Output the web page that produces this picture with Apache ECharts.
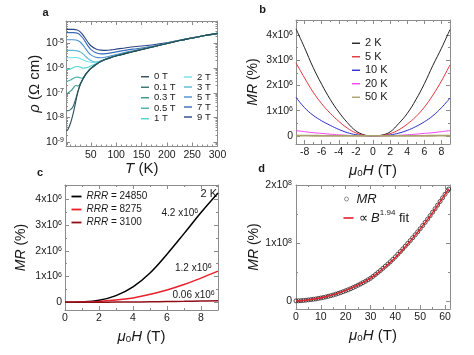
<!DOCTYPE html>
<html><head><meta charset="utf-8">
<script src="https://cdn.jsdelivr.net/npm/echarts@6/dist/echarts.min.js"></script>
<style>html,body{margin:0;padding:0;background:#fff}#c{width:474px;height:355px}</style>
</head><body><div id="c"></div>
<script>
// ---------------- Panel a : rho(T) at several fields (log10 of rho, Ω cm) ----------------
const tempsK = [2,5,10,15,20,25,30,35,40,45,50,60,70,80,90,100,120,140,160,180,200,225,250,275,300];
const fieldNamesA = ['0 T','0.1 T','0.3 T','0.5 T','1 T','2 T','3 T','5 T','7 T','9 T'];
const logRho0T  = [-8.54,-8.47,-8.22,-7.85,-7.38,-6.93,-6.62,-6.42,-6.25,-6.13,-6.02,-5.86,-5.73,-5.64,-5.57,-5.51,-5.40,-5.30,-5.20,-5.10,-5.00,-4.88,-4.78,-4.68,-4.59];
const logRho01T = [-7.72,-7.72,-7.68,-7.55,-7.25,-6.90,-6.61,-6.41,-6.24,-6.12,-6.01,-5.85,-5.72,-5.63,-5.56,-5.50,-5.39,-5.29,-5.19,-5.10,-5.00,-4.88,-4.78,-4.68,-4.59];
const logRho03T = [-7.02,-7.00,-6.93,-6.82,-6.70,-6.72,-6.60,-6.41,-6.24,-6.12,-6.01,-5.85,-5.72,-5.63,-5.56,-5.50,-5.39,-5.29,-5.19,-5.10,-5.00,-4.88,-4.78,-4.68,-4.59];
const logRho05T = [-6.53,-6.52,-6.48,-6.42,-6.37,-6.36,-6.40,-6.38,-6.23,-6.11,-6.00,-5.85,-5.72,-5.63,-5.56,-5.50,-5.39,-5.29,-5.19,-5.10,-5.00,-4.88,-4.78,-4.68,-4.59];
const logRho1T  = [-6.05,-6.05,-6.03,-5.98,-5.94,-5.93,-5.96,-6.00,-5.98,-5.95,-5.91,-5.82,-5.72,-5.63,-5.56,-5.50,-5.39,-5.29,-5.19,-5.10,-5.00,-4.88,-4.78,-4.68,-4.59];
const logRho2T  = [-5.58,-5.58,-5.58,-5.57,-5.57,-5.58,-5.62,-5.67,-5.71,-5.74,-5.76,-5.77,-5.71,-5.63,-5.56,-5.50,-5.39,-5.29,-5.19,-5.10,-5.00,-4.88,-4.78,-4.68,-4.59];
const logRho3T  = [-5.28,-5.28,-5.28,-5.28,-5.29,-5.31,-5.35,-5.43,-5.53,-5.62,-5.69,-5.75,-5.70,-5.63,-5.56,-5.50,-5.39,-5.29,-5.19,-5.10,-5.00,-4.88,-4.78,-4.68,-4.59];
const logRho5T  = [-4.85,-4.85,-4.85,-4.85,-4.86,-4.89,-4.96,-5.08,-5.22,-5.36,-5.46,-5.56,-5.58,-5.55,-5.50,-5.45,-5.35,-5.27,-5.18,-5.09,-5.00,-4.88,-4.78,-4.68,-4.59];
const logRho7T  = [-4.56,-4.56,-4.56,-4.56,-4.57,-4.60,-4.68,-4.80,-4.96,-5.12,-5.24,-5.38,-5.42,-5.41,-5.38,-5.34,-5.27,-5.21,-5.15,-5.08,-4.99,-4.88,-4.78,-4.68,-4.59];
const logRho9T  = [-4.43,-4.43,-4.43,-4.43,-4.44,-4.47,-4.55,-4.67,-4.82,-4.97,-5.09,-5.22,-5.27,-5.28,-5.26,-5.23,-5.17,-5.12,-5.08,-5.03,-4.97,-4.87,-4.77,-4.68,-4.59];
const logRhoTicks = [-9,-8,-7,-6,-5];
const tempTicks = [50,100,150,200,250,300];

// ---------------- Panel b : MR(H) at several temperatures (units of 10^6 %) ----------------
const fieldB = [-9,-8,-7,-6,-5,-4,-3,-2,-1,0,1,2,3,4,5,6,7,8,9];
const tempNamesB = ['2 K','5 K','10 K','20 K','50 K'];
const mr2K  = [4.25,3.50,2.72,2.05,1.45,0.95,0.53,0.20,0.04,0,0.03,0.16,0.49,0.89,1.43,2.07,2.80,3.48,4.22];
const mr5K  = [2.90,2.30,1.74,1.28,0.90,0.58,0.31,0.12,0.02,0,0.02,0.09,0.24,0.47,0.76,1.14,1.62,2.18,2.82];
const mr10K = [1.53,1.12,0.82,0.60,0.42,0.26,0.13,0.05,0.01,0,0.01,0.04,0.11,0.22,0.37,0.56,0.80,1.12,1.50];
const mr20K = [0.21,0.17,0.13,0.10,0.07,0.045,0.025,0.01,0.003,0,0.003,0.01,0.025,0.045,0.07,0.10,0.13,0.17,0.21];
const mr50K = [0.012,0.010,0.008,0.006,0.004,0.003,0.002,0.001,0,0,0,0.001,0.002,0.003,0.004,0.006,0.008,0.010,0.012];
const fieldTicksB = [-8,-6,-4,-2,0,2,4,6,8];
const mrTicks6 = [0,1,2,3,4];

// ---------------- Panel c : MR(H) at 2 K for three samples (units of 10^6 %) ----------------
const fieldC = [0,1,2,3,4,5,6,7,8,9];
const sampleNamesC = ['RRR = 24850','RRR = 8275','RRR = 3100'];
const mrRRR24850 = [0,0.015,0.08,0.26,0.60,1.14,1.87,2.67,3.49,4.25];
const mrRRR8275  = [0,0.01,0.035,0.09,0.165,0.31,0.48,0.69,0.94,1.21];
const mrRRR3100  = [0,0.001,0.003,0.007,0.012,0.019,0.028,0.038,0.049,0.062];
const fieldTicksC = [0,2,4,6,8];

// ---------------- Panel d : high-field MR (units of 10^8 %) ----------------
const fieldD = [0,1,2,3,4,5,6,7,8,9,10,11,12,13,14,15,16,17,18,19,20,21,22,23,24,25,26,27,28,29,30,31,32,33,34,35,36,37,38,39,40,41,42,43,44,45,46,47,48,49,50,51,52,53,54,55,56,57,58,59,60,61,61.5];
const mrD = [0,0.002,0.004,0.008,0.012,0.017,0.022,0.028,0.034,0.042,0.050,0.059,0.068,0.079,0.090,0.102,0.115,0.129,0.143,0.159,0.175,0.192,0.210,0.230,0.250,0.271,0.292,0.315,0.338,0.364,0.390,0.422,0.455,0.490,0.525,0.562,0.600,0.637,0.675,0.717,0.760,0.805,0.850,0.897,0.945,0.992,1.040,1.090,1.140,1.192,1.245,1.300,1.355,1.412,1.470,1.530,1.590,1.652,1.715,1.777,1.840,1.900,1.930];
const fitFieldD = [0,4,8,12,16,20,24,28,32,36,40,44,48,52,56,60,61.5];
const fitMrD = [0,0.012,0.036,0.072,0.12,0.18,0.255,0.34,0.45,0.59,0.75,0.935,1.135,1.35,1.585,1.84,1.93];
const fieldTicksD = [0,10,20,30,40,50,60];
const mrTicks8 = [0,1,2];

// ---------------- styling ----------------
const FONT = '"Liberation Sans", Arial, Helvetica, sans-serif';
const AXC = '#8c8c8c';
const TXT = '#1a1a1a';
const colorsA = ['#2f4b57','#33706f','#3a918f','#45aeab','#4fd2d4','#72e2ea','#5db6d6','#4b8fce','#3b6bb6','#2b4784'];
const colorsB = ['#222222','#e3343b','#2c2ccc','#f244f0','#a9a06c'];
const colorsC = ['#000000','#e8202a','#8e0f18'];
const supRich = {sup:{fontSize:7, fontFamily:FONT, color:TXT, verticalAlign:'top', padding:[0,0,4,0]}};
const nameStyle = (size) => ({fontSize:size, fontFamily:FONT, color:TXT, rich:{
  i:{fontStyle:'italic', fontSize:size, fontFamily:FONT, color:TXT},
  sub:{fontSize:size*0.65, fontFamily:FONT, color:TXT, verticalAlign:'bottom', padding:[4,0,0,0]},
  n:{fontSize:size, fontFamily:FONT, color:TXT}}});

const xAxis = [], yAxis = [];
function sideAxes(list, dim, gi, min, max, majors, minors, labelCfg, nameCfg) {
  const posA = dim === 'x' ? 'bottom' : 'left';
  const posB = dim === 'x' ? 'top' : 'right';
  const first = list.length;
  const common = {type:'value', gridIndex:gi, min:min, max:max, splitLine:{show:false}};
  const tick = (vals, len) => ({show:true, inside:true, length:len, customValues:vals, lineStyle:{color:AXC, width:1}});
  const line = (s) => ({show:s, onZero:false, lineStyle:{color:AXC, width:1}});
  list.push(Object.assign({}, common, {position:posA, axisLine:line(true), axisTick:tick(majors,4),
    axisLabel:Object.assign({show:true, customValues:majors, color:TXT, fontSize:10.5, fontFamily:FONT, rich:supRich}, labelCfg)}, nameCfg || {}));
  list.push(Object.assign({}, common, {position:posA, axisLine:line(false), axisTick:tick(minors,2), axisLabel:{show:false}}));
  list.push(Object.assign({}, common, {position:posB, axisLine:line(true), axisTick:tick(majors,4), axisLabel:{show:false}}));
  list.push(Object.assign({}, common, {position:posB, axisLine:line(false), axisTick:tick(minors,2), axisLabel:{show:false}}));
  return first;
}

// minor tick positions (styling only)
const minorA_x = []; for (let t = 10; t < 300; t += 10) if (t % 50) minorA_x.push(t);
const minorA_y = []; for (let n = -10; n <= -5; n++) for (let k = 2; k <= 9; k++) { const v = n + Math.log10(k); if (v > -9.17 && v < -4.09) minorA_y.push(v); }
const pow6 = v => v === 0 ? '0' : v + 'x10{sup|6}';
const pow8 = v => v === 0 ? '0' : v + 'x10{sup|8}';

const grids = [
  {left:66, top:21, width:151.5, height:125.5},
  {left:296, top:20, width:154, height:124},
  {left:65, top:185, width:153, height:125},
  {left:296, top:185, width:154, height:124}
];

const xa = sideAxes(xAxis,'x',0,1,300,tempTicks,minorA_x,{margin:3},
  {name:'{i|T} (K)', nameLocation:'middle', nameGap:10, nameTextStyle:nameStyle(15)});
const ya = sideAxes(yAxis,'y',0,-9.17,-4.09,logRhoTicks,minorA_y,{margin:2, formatter:v => '10{sup|' + v + '}'},
  {name:'{i|ρ} (Ω cm)', nameLocation:'middle', nameGap:21, nameTextStyle:nameStyle(15)});
const xb = sideAxes(xAxis,'x',1,-9,9,fieldTicksB,[-9,-7,-5,-3,-1,1,3,5,7,9],{margin:3},
  {name:'{i|μ}{sub|0}{i|H} (T)', nameLocation:'middle', nameGap:19, nameTextStyle:nameStyle(15)});
const yb = sideAxes(yAxis,'y',1,-0.32,4.6,mrTicks6,[0.5,1.5,2.5,3.5,4.5],{margin:3, formatter:pow6},
  {name:'{i|MR} (%)', nameLocation:'middle', nameGap:36, nameTextStyle:nameStyle(14)});
const xc = sideAxes(xAxis,'x',2,0,9,fieldTicksC,[1,3,5,7,9],{margin:3},
  {name:'{i|μ}{sub|0}{i|H} (T)', nameLocation:'middle', nameGap:19, nameTextStyle:nameStyle(15)});
const yc = sideAxes(yAxis,'y',2,-0.3,4.56,mrTicks6,[0.5,1.5,2.5,3.5,4.5],{margin:3, formatter:pow6},
  {name:'{i|MR} (%)', nameLocation:'middle', nameGap:37, nameTextStyle:nameStyle(14)});
const xd = sideAxes(xAxis,'x',3,0,62,fieldTicksD,[5,15,25,35,45,55],{margin:3},
  {name:'{i|μ}{sub|0}{i|H} (T)', nameLocation:'middle', nameGap:19, nameTextStyle:nameStyle(15)});
const yd = sideAxes(yAxis,'y',3,-0.14,2.0,mrTicks8,[0.5,1.5],{margin:4, formatter:pow8},
  {name:'{i|MR} (%)', nameLocation:'middle', nameGap:30, nameTextStyle:nameStyle(14)});

const zip = (xs, ys) => xs.map((x, i) => [x, ys[i]]);
const series = [];
const seriesA = [logRho0T,logRho01T,logRho03T,logRho05T,logRho1T,logRho2T,logRho3T,logRho5T,logRho7T,logRho9T];
seriesA.forEach((arr, i) => series.push({type:'line', name:fieldNamesA[i], xAxisIndex:xa, yAxisIndex:ya,
  data:zip(tempsK, arr), smooth:0.35, symbol:'none', lineStyle:{color:colorsA[i], width:1.1}, itemStyle:{color:colorsA[i]}, z:10-i}));
const seriesB = [mr2K, mr5K, mr10K, mr20K, mr50K];
seriesB.forEach((arr, i) => series.push({type:'line', name:tempNamesB[i], xAxisIndex:xb, yAxisIndex:yb,
  data:zip(fieldB, arr), smooth:0.4, symbol:'none', lineStyle:{color:colorsB[i], width:i === 4 ? 1.8 : 1}, itemStyle:{color:colorsB[i]}}));
const seriesC = [mrRRR24850, mrRRR8275, mrRRR3100];
seriesC.forEach((arr, i) => series.push({type:'line', name:sampleNamesC[i], xAxisIndex:xc, yAxisIndex:yc,
  data:zip(fieldC, arr), smooth:0.4, symbol:'none', lineStyle:{color:colorsC[i], width:1.5}, itemStyle:{color:colorsC[i]}}));
series.push({type:'scatter', name:'MR', xAxisIndex:xd, yAxisIndex:yd, data:zip(fieldD, mrD),
  symbol:'circle', symbolSize:4, itemStyle:{color:'rgba(0,0,0,0)', borderColor:'#2e2626', borderWidth:1}, z:2});
series.push({type:'line', name:'fit', xAxisIndex:xd, yAxisIndex:yd, data:zip(fitFieldD, fitMrD),
  smooth:0.4, symbol:'none', lineStyle:{color:'#e3202b', width:1.4}, itemStyle:{color:'#e3202b'}, z:3});

const lineLegend = (data, left, top, size, lh, extra) => Object.assign({orient:'vertical', padding:0, selectedMode:false,
  data:data, left:left, top:top, icon:'rect', itemWidth:8, itemHeight:1.4, itemGap:0,
  textStyle:{fontSize:size, lineHeight:lh, fontFamily:FONT, color:TXT}}, extra || {});
const legends = [
  lineLegend(fieldNamesA.slice(0,5), 141, 71.5, 9.5, 10.5),
  lineLegend(fieldNamesA.slice(5), 184, 72, 9.5, 10),
  lineLegend(tempNamesB, 352, 36.5, 11, 13.5),
  lineLegend(sampleNamesC, 71.5, 190, 10, 13, {itemWidth:10, itemHeight:1.8,
    formatter:n => n.replace('RRR', '{i|RRR}'),
    textStyle:{fontSize:10, lineHeight:13, fontFamily:FONT, color:TXT, rich:{i:{fontStyle:'italic', fontSize:10, fontFamily:FONT, color:TXT}}}}),
  {orient:'vertical', padding:0, selectedMode:false, data:['MR'], left:344, top:189.5, icon:'circle', itemWidth:10, itemHeight:4,
    formatter:() => '{i|MR}', itemStyle:{color:'rgba(0,0,0,0)', borderColor:'#777', borderWidth:1},
    textStyle:{fontSize:13, lineHeight:19, fontFamily:FONT, color:TXT, rich:{i:{fontStyle:'italic', fontSize:13, fontFamily:FONT, color:TXT}}}},
  lineLegend(['fit'], 343.5, 208.5, 13, 19, {itemWidth:10, itemHeight:1.6,
    formatter:() => '∝ {i|B}{sup|1.94} fit',
    textStyle:{fontSize:13, lineHeight:19, fontFamily:FONT, color:TXT, rich:{
      i:{fontStyle:'italic', fontSize:13, fontFamily:FONT, color:TXT},
      sup:{fontSize:8, fontFamily:FONT, color:TXT, verticalAlign:'top', padding:[0,0,6,0]}}}})
];

const txt = (x, y, text, size, extra) => ({type:'text', x:x, y:y, silent:true, style:Object.assign({text:text, fontSize:size, fontFamily:FONT, fill:TXT,
  textAlign:'left', textVerticalAlign:'middle', verticalAlign:'middle', rich:{sup:{fontSize:7, fontFamily:FONT, fill:TXT, verticalAlign:'top', padding:[0,0,4,0]}}}, extra || {})});
const graphic = [
  txt(45.5, 12.5, 'a', 11, {fontWeight:'bold', textAlign:'center'}),
  txt(262.5, 10, 'b', 11, {fontWeight:'bold', textAlign:'center'}),
  txt(40, 172.5, 'c', 11, {fontWeight:'bold', textAlign:'center'}),
  txt(261.5, 168.5, 'd', 11, {fontWeight:'bold', textAlign:'center'}),
  txt(217, 194, '2 K', 11, {textAlign:'right'}),
  txt(161.5, 213.5, '4.2 x10{sup|6}', 10),
  txt(175, 268.5, '1.2 x10{sup|6}', 10),
  txt(172.5, 295, '0.06 x10{sup|6}', 10)
];

const chart = echarts.init(document.getElementById('c'), null, {renderer:'canvas', width:474, height:355});
chart.setOption({animation:false, backgroundColor:'#fff', grid:grids, xAxis:xAxis, yAxis:yAxis, series:series, legend:legends, graphic:graphic});
</script></body></html>
